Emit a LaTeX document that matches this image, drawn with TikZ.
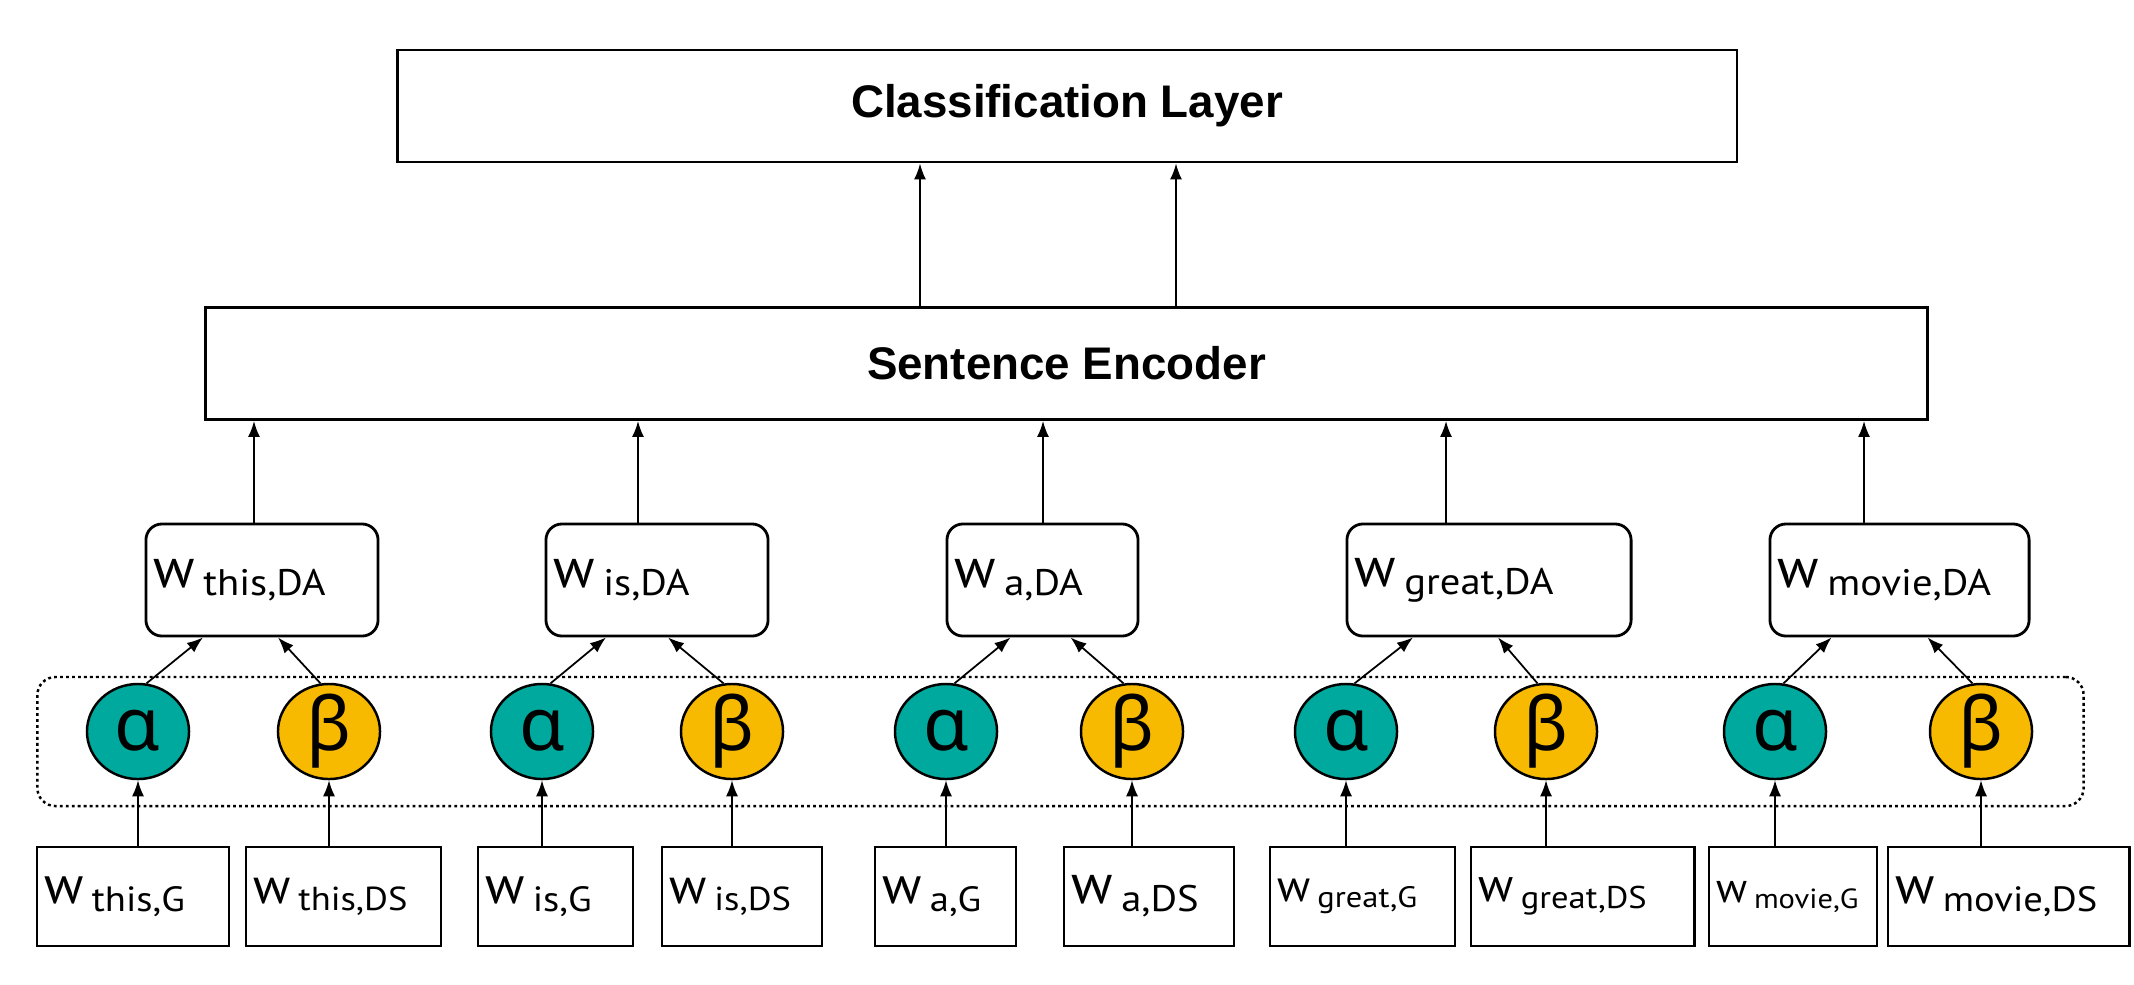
\documentclass[tikz,border=0pt]{standalone}
\usepackage{fontspec}
\setmainfont{Liberation Sans}
\newfontfamily\wfont{PT Sans}
\newfontfamily\gfont{Noto Sans}
\usepackage{xcolor}
\usepackage{tikz}
\usetikzlibrary{arrows.meta,positioning,shapes.geometric,calc}
\definecolor{alphateal}{HTML}{00A99D}
\definecolor{betagold}{HTML}{F8BA00}
\newcommand{\wlab}[2][1]{\scalebox{#1}{\wfont{\fontsize{16}{16}\selectfont w}\hspace{0.08cm}\raisebox{-0.08cm}{\scalebox{1.1}[1]{\fontsize{10.5}{10.5}\selectfont #2}}}}

\begin{document}
\begin{tikzpicture}[
x=0.01cm,
y=-0.01cm,
layerbox/.style={rectangle,draw,line width=0.8pt,font=\fontsize{13}{15}\selectfont\bfseries,minimum height=1.12cm},
dabox/.style={rectangle,rounded corners=0.16cm,draw,line width=0.8pt,align=left,inner xsep=0.08cm,minimum height=1.12cm},
inbox/.style={rectangle,draw,line width=0.8pt,align=left,inner xsep=0.08cm,minimum height=0.99cm},
gatea/.style={ellipse,draw,line width=0.7pt,fill=alphateal,inner sep=0pt,minimum width=1.02cm,minimum height=0.95cm,text height=0.38cm,text depth=0pt,font=\gfont\fontsize{21}{21}\selectfont},
gateb/.style={gatea,fill=betagold},
groupframe/.style={rectangle,rounded corners=0.18cm,draw,line width=0.7pt,dash pattern=on 0.8pt off 0.9pt},
arr/.style={-{Latex[length=1.6mm,width=1.2mm]},line width=0.5pt}
]
\useasboundingbox (0,0) rectangle (2134,984);

\node[layerbox,minimum width=13.39cm] (cls) at (1067,106) {Classification Layer};
\node[layerbox,minimum width=17.21cm] (enc) at (1066.5,363.5) {Sentence Encoder};

\node[dabox,text width=2.16cm] (da1) at (262,580) {\wlab{this,DA}};
\node[dabox,text width=2.06cm] (da2) at (657,580) {\wlab{is,DA}};
\node[dabox,text width=1.75cm] (da3) at (1042.5,580) {\wlab{a,DA}};
\node[dabox,text width=2.68cm] (da4) at (1489,580) {\wlab{great,DA}};
\node[dabox,text width=2.43cm] (da5) at (1899.5,580) {\wlab{movie,DA}};

\node[groupframe,minimum width=20.45cm,minimum height=1.29cm] (frame) at (1060.5,741.5) {};

\node[gatea] (a1) at (138,731.5) {α};
\node[gateb] (b1) at (329,731.5) {β};
\node[gatea] (a2) at (542,731.5) {α};
\node[gateb] (b2) at (732,731.5) {β};
\node[gatea] (a3) at (946,731.5) {α};
\node[gateb] (b3) at (1132,731.5) {β};
\node[gatea] (a4) at (1346,731.5) {α};
\node[gateb] (b4) at (1546,731.5) {β};
\node[gatea] (a5) at (1775,731.5) {α};
\node[gateb] (b5) at (1981,731.5) {β};

\node[inbox,text width=1.76cm] (g1) at (133,896.5) {\wlab[0.95]{this,G}};
\node[inbox,text width=1.79cm] (s1) at (343.5,896.5) {\wlab[0.9]{this,DS}};
\node[inbox,text width=1.39cm] (g2) at (555.5,896.5) {\wlab[0.95]{is,G}};
\node[inbox,text width=1.44cm] (s2) at (742,896.5) {\wlab[0.9]{is,DS}};
\node[inbox,text width=1.25cm] (g3) at (945.5,896.5) {\wlab[0.95]{a,G}};
\node[inbox,text width=1.54cm] (s3) at (1149,896.5) {\wlab{a,DS}};
\node[inbox,text width=1.69cm] (g4) at (1362.5,896.5) {\wlab[0.8]{great,G}};
\node[inbox,text width=2.07cm] (s4) at (1582.5,896.5) {\wlab[0.85]{great,DS}};
\node[inbox,text width=1.52cm] (g5) at (1793,896.5) {\wlab[0.75]{movie,G}};
\node[inbox,text width=2.25cm] (s5) at (2008.5,896.5) {\wlab[0.95]{movie,DS}};

\draw[arr] ($(enc.north)+(-146.5,0)$) -- ($(cls.south)+(-147,0)$);
\draw[arr] ($(enc.north)+(109.5,0)$) -- ($(cls.south)+(109,0)$);

\draw[arr] ($(da1.north)+(-8,0)$) -- ($(enc.south)+(-812.5,0)$);
\draw[arr] ($(da2.north)+(-19,0)$) -- ($(enc.south)+(-428.5,0)$);
\draw[arr] ($(da3.north)+(0.5,0)$) -- ($(enc.south)+(-23.5,0)$);
\draw[arr] ($(da4.north)+(-43,0)$) -- ($(enc.south)+(379.5,0)$);
\draw[arr] ($(da5.north)+(-35.5,0)$) -- ($(enc.south)+(797.5,0)$);

\draw[arr] (a1.80) -- ($(da1.south)+(-59,0)$);
\draw[arr] (b1.100) -- ($(da1.south)+(16,0)$);
\draw[arr] (a2.80) -- ($(da2.south)+(-51,0)$);
\draw[arr] (b2.100) -- ($(da2.south)+(11,0)$);
\draw[arr] (a3.80) -- ($(da3.south)+(-32,0)$);
\draw[arr] (b3.100) -- ($(da3.south)+(28,0)$);
\draw[arr] (a4.80) -- ($(da4.south)+(-76,0)$);
\draw[arr] (b4.100) -- ($(da4.south)+(9,0)$);
\draw[arr] (a5.80) -- ($(da5.south)+(-68,0)$);
\draw[arr] (b5.100) -- ($(da5.south)+(28,0)$);

\draw[arr] (g1.north -| a1) -- (a1.south);
\draw[arr] (s1.north -| b1) -- (b1.south);
\draw[arr] (g2.north -| a2) -- (a2.south);
\draw[arr] (s2.north -| b2) -- (b2.south);
\draw[arr] (g3.north -| a3) -- (a3.south);
\draw[arr] (s3.north -| b3) -- (b3.south);
\draw[arr] (g4.north -| a4) -- (a4.south);
\draw[arr] (s4.north -| b4) -- (b4.south);
\draw[arr] (g5.north -| a5) -- (a5.south);
\draw[arr] (s5.north -| b5) -- (b5.south);
\end{tikzpicture}
\end{document}
